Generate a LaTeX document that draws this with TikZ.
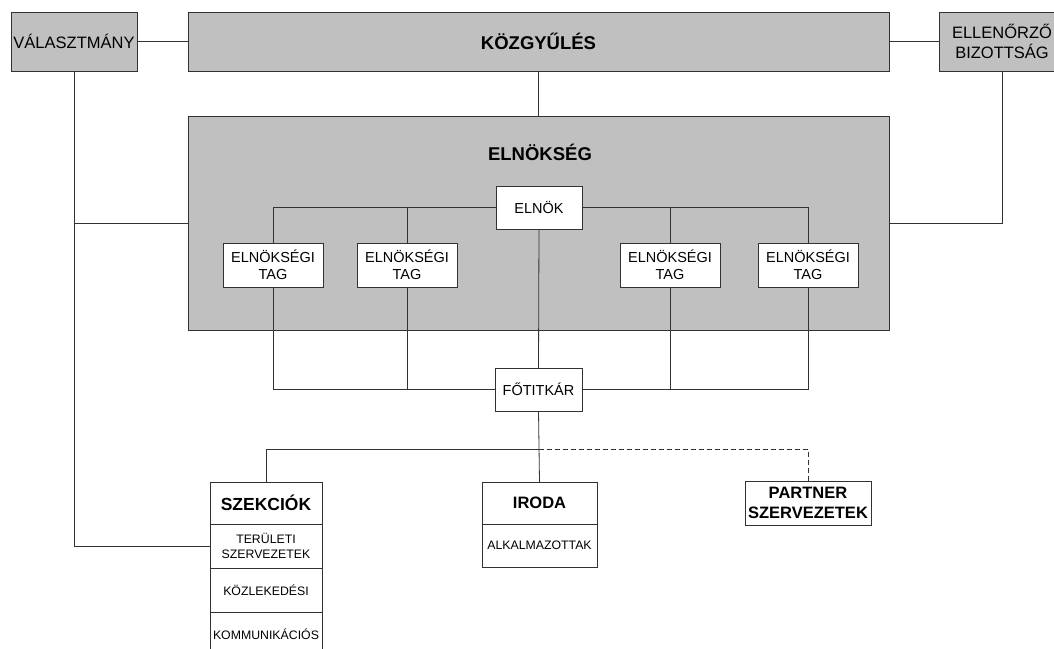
\documentclass[tikz,border=0pt]{standalone}
\usepackage{fontspec}
\setmainfont{Liberation Sans}
\usetikzlibrary{positioning}

\definecolor{boxgray}{RGB}{192,192,192}
\definecolor{linegray}{RGB}{50,50,50}

\tikzset{
    conn/.style={draw=linegray, line width=0.8pt},
    graybox/.style={draw=linegray, line width=0.8pt, fill=boxgray, inner sep=0pt, outer sep=0pt, align=center,
        font=\fontsize{16.5}{20}\selectfont},
    whitebox/.style={draw=linegray, line width=0.8pt, fill=white, inner sep=0pt, outer sep=0pt, align=center,
        font=\fontsize{14.5}{17}\selectfont},
    headbox/.style={draw=linegray, line width=0.8pt, fill=white, inner sep=0pt, outer sep=0pt, align=center,
        font=\fontsize{16.5}{20}\selectfont\bfseries},
    cellbox/.style={draw=linegray, line width=0.8pt, fill=white, inner sep=0pt, outer sep=0pt, align=center,
        font=\fontsize{12.3}{15}\selectfont},
}

\begin{document}
\begin{tikzpicture}[x=1pt, y=-1pt]
    \useasboundingbox (0,0) rectangle (1054,648);

    \def\tagw{100};
    \def\tagh{44};
    \def\szw{112};
    \def\irw{115};

    % top row
    \node[graybox, minimum width=126, minimum height=59] (valasz) at (74, 41.5) {VÁLASZTMÁNY};
    \node[graybox, minimum width=701, minimum height=59, font=\fontsize{18.5}{20}\selectfont\bfseries] (kozgy) at (538.5, 41.5) {KÖZGYŰLÉS};
    \node[graybox, minimum width=126, minimum height=59] (ellen) at (1002, 41.5) {ELLENŐRZŐ\\BIZOTTSÁG};

    % board
    \node[graybox, minimum width=701, minimum height=214] (elnokseg) at (538.5, 223) {};
    \node[font=\fontsize{18.5}{20}\selectfont\bfseries] (elnoksegtitle) at (540, 152) {ELNÖKSÉG};

    \node[whitebox, minimum width=86, minimum height=43] (elnok) at (539, 207.5) {ELNÖK};
    \node[whitebox, minimum width=\tagw, minimum height=\tagh] (tag1) at (273, 265) {ELNÖKSÉGI\\TAG};
    \node[whitebox, minimum width=\tagw, minimum height=\tagh] (tag2) at (407, 265) {ELNÖKSÉGI\\TAG};
    \node[whitebox, minimum width=\tagw, minimum height=\tagh] (tag3) at (670, 265) {ELNÖKSÉGI\\TAG};
    \node[whitebox, minimum width=\tagw, minimum height=\tagh] (tag4) at (808, 265) {ELNÖKSÉGI\\TAG};

    \node[whitebox, minimum width=87, minimum height=43] (fotitkar) at (538.5, 389.5) {FŐTITKÁR};

    % lower units
    \node[headbox, minimum width=\szw, minimum height=42, font=\fontsize{17.5}{20}\selectfont\bfseries] (szekhead) at (266, 503) {SZEKCIÓK};
    \node[cellbox, minimum width=\szw, minimum height=44, below=0pt of szekhead] (szek1) {TERÜLETI\\SZERVEZETEK};
    \node[cellbox, minimum width=\szw, minimum height=44, below=0pt of szek1] (szek2) {KÖZLEKEDÉSI};
    \node[cellbox, minimum width=\szw, minimum height=44, below=0pt of szek2] (szek3) {KOMMUNIKÁCIÓS};

    \node[headbox, minimum width=\irw, minimum height=42] (iroda) at (539.5, 503) {IRODA};
    \node[cellbox, minimum width=\irw, minimum height=43, below=0pt of iroda] (alkalm) {ALKALMAZOTTAK};

    \node[headbox, minimum width=126, minimum height=44] (partner) at (808, 503) {PARTNER\\SZERVEZETEK};

    % connectors
    \draw[conn] (valasz.east) -- (kozgy.west);
    \draw[conn] (kozgy.east) -- (ellen.west);
    \draw[conn] (kozgy.south) -- (elnokseg.north);
    \draw[conn] (valasz.south) |- (szek1.west);
    \draw[conn] (valasz.south |- elnokseg.west) -- (elnokseg.west);
    \draw[conn] (ellen.south) |- (elnokseg.east);

    \draw[conn] (tag1.north) |- (elnok.west);
    \draw[conn] (tag2.north) -- (tag2.north |- elnok.west);
    \draw[conn] (tag4.north) |- (elnok.east);
    \draw[conn] (tag3.north) -- (tag3.north |- elnok.east);
    \draw[conn] (elnok.south) -- (fotitkar.north);

    \draw[conn] (tag1.south) |- (fotitkar.west);
    \draw[conn] (tag2.south) -- (tag2.south |- fotitkar.west);
    \draw[conn] (tag4.south) |- (fotitkar.east);
    \draw[conn] (tag3.south) -- (tag3.south |- fotitkar.east);

    \coordinate (split) at (fotitkar.south |- 0, 449);
    \draw[conn] (fotitkar.south) -- (iroda.north);
    \draw[conn] (split) -| (szekhead.north);
    \draw[conn, dash pattern=on 5pt off 3pt] (split) -| (partner.north);

\end{tikzpicture}
\end{document}
